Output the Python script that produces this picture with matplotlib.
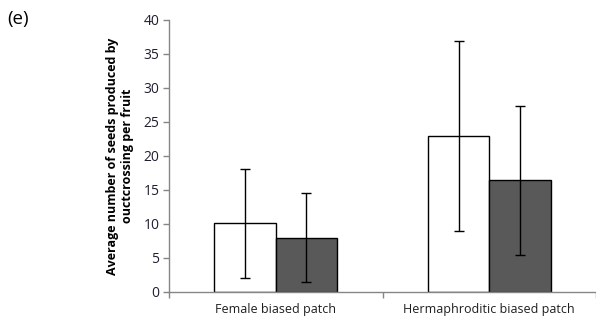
import matplotlib
matplotlib.use("Agg")
import matplotlib.pyplot as plt
import numpy as np

categories = ["Female biased patch", "Hermaphroditic biased patch"]
open_means = [10.1, 22.9]
open_err = [8.0, 14.0]
filled_means = [8.0, 16.4]
filled_err = [6.6, 10.9]
y_ticks = [0, 5, 10, 15, 20, 25, 30, 35, 40]

plt.rcParams["font.family"] = ["Open Sans", "DejaVu Sans"]

fig = plt.figure(figsize=(5.96, 3.22), dpi=100)
ax = fig.add_axes([0.2836, 0.0932, 0.7164, 0.8447])

x = np.arange(len(categories))
w = 0.287
err_kw = dict(ecolor="black", elinewidth=1.0, capsize=3.3, capthick=1.0)
ax.bar(x - w / 2, open_means, w, yerr=open_err, color="white",
       edgecolor="black", linewidth=1.0, error_kw=err_kw, zorder=2)
ax.bar(x + w / 2, filled_means, w, yerr=filled_err, color="#595959",
       edgecolor="black", linewidth=1.0, error_kw=err_kw, zorder=2)

ax.set_xlim(-0.5, 1.5)
ax.set_ylim(0, 40)
ax.set_yticks(y_ticks)
ax.tick_params(axis="y", labelsize=10, colors="#868686", labelcolor="#1f1f2f",
               length=4, width=1, direction="out", pad=3)

# category labels centred, tick marks at category boundaries
ax.set_xticks([-0.5, 0.5, 1.5])
ax.set_xticklabels([])
ax.set_xticks(x, minor=True)
ax.set_xticklabels(categories, minor=True)
ax.tick_params(axis="x", which="major", length=4, width=1, colors="#868686",
               direction="out")
ax.tick_params(axis="x", which="minor", length=0, labelsize=9,
               labelcolor="#1f1f1f", pad=8)

for side in ("top", "right"):
    ax.spines[side].set_visible(False)
for side in ("left", "bottom"):
    ax.spines[side].set_color("#868686")
    ax.spines[side].set_linewidth(1.0)

ax.set_ylabel("Average number of seeds produced by\nouctcrossing per fruit",
              fontsize=9, fontweight="bold", labelpad=7, linespacing=1.15)

fig.text(0.013, 0.94, "(e)", fontsize=13.5, ha="left", va="center")

fig.savefig("out.png", dpi=100)
